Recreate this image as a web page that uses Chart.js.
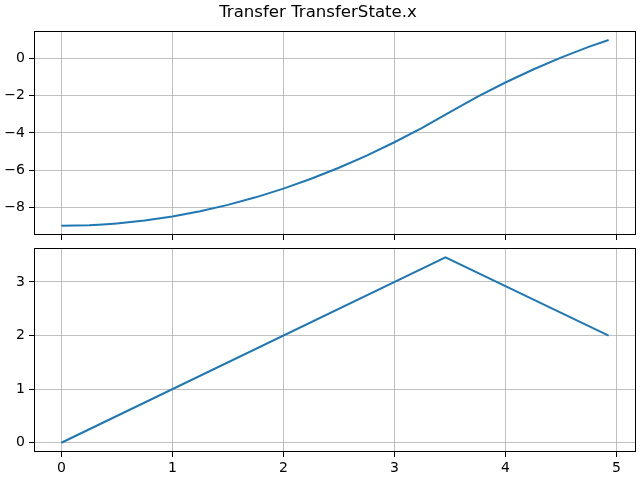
<!DOCTYPE html>
<html>
<head>
<meta charset="utf-8">
<script src="https://cdn.jsdelivr.net/npm/chart.js@4"></script>
<style>
  html, body { margin: 0; padding: 0; background: #fff; }
  #wrap { position: relative; width: 640px; height: 480px; }
  canvas { position: absolute; left: 0; }
  #top { top: 0; }
  #bottom { top: 245px; }
</style>
</head>
<body>
<div id="wrap">
  <canvas id="top" width="640" height="245"></canvas>
  <canvas id="bottom" width="640" height="235"></canvas>
</div>
<script>
const TITLE = 'Transfer TransferState.x';

// position vs time (upper plot)
const posTime = [0, 0.125, 0.25, 0.375, 0.5, 0.625, 0.75, 1.0, 1.25, 1.5, 1.75, 2.0, 2.25, 2.5, 2.75, 3.0, 3.25, 3.46, 3.75, 4.0, 4.25, 4.5, 4.75, 4.93];
const posValues = [-9, -8.992, -8.97, -8.93, -8.875, -8.805, -8.72, -8.5, -8.22, -7.875, -7.47, -7.0, -6.47, -5.875, -5.22, -4.5, -3.72, -3.01, -2.04, -1.28, -0.58, 0.06, 0.64, 1.01];

// velocity vs time (lower plot)
const velTime = [0, 3.46, 4.93];
const velValues = [0, 3.46, 2.0];

const xTicks = [0, 1, 2, 3, 4, 5];
const posTicks = [-8, -6, -4, -2, 0];
const velTicks = [0, 1, 2, 3];

const LINE = '#1f77b4';
const GRID = '#b0b0b0';
const FONT = { family: 'DejaVu Sans', size: 14 };

const fmt = v => (v < 0 ? '\u2212' + Math.abs(v) : String(v));

const boxPlugin = {
  id: 'box',
  afterDraw(chart) {
    const { ctx, chartArea: a } = chart;
    ctx.save();
    ctx.strokeStyle = '#000';
    ctx.lineWidth = 1;
    ctx.strokeRect(Math.round(a.left) + 0.5, Math.round(a.top) + 0.5,
      Math.round(a.right - a.left) - 1, Math.round(a.bottom - a.top) - 1);
    ctx.restore();
  },
};

function noPad(s) {
  s.paddingTop = 0;
  s.paddingBottom = 0;
  s.paddingLeft = 0;
  s.paddingRight = 0;
}

function makeChart(id, xs, ys, yTicks, yMin, yMax, opts) {
  return new Chart(document.getElementById(id).getContext('2d'), {
    type: 'line',
    data: {
      datasets: [{
        data: xs.map((x, i) => ({ x, y: ys[i] })),
        borderColor: LINE,
        borderWidth: 2,
        pointRadius: 0,
        tension: 0,
        fill: false,
      }],
    },
    options: {
      responsive: false,
      animation: false,
      devicePixelRatio: 1,
      layout: { padding: opts.padding },
      plugins: {
        legend: { display: false },
        tooltip: { enabled: false },
        title: opts.title ? {
          display: true,
          text: opts.title,
          color: '#000',
          font: { family: 'DejaVu Sans', size: 16.6, weight: 'normal', lineHeight: 1.2 },
          padding: { top: 3, bottom: 8 },
        } : { display: false },
      },
      scales: {
        x: {
          type: 'linear',
          min: -0.2465,
          max: 5.1765,
          afterBuildTicks: s => { s.ticks = xTicks.map(v => ({ value: v })); },
          afterFit: s => { s.height = opts.xHeight; noPad(s); },
          grid: { color: GRID, lineWidth: 0.8, tickColor: '#000', tickLength: 5, tickWidth: 1 },
          border: { display: false },
          ticks: { display: opts.xLabels, color: '#000', font: FONT, padding: 3, maxRotation: 0, callback: v => fmt(v) },
        },
        y: {
          type: 'linear',
          min: yMin,
          max: yMax,
          afterBuildTicks: s => { s.ticks = yTicks.map(v => ({ value: v })); },
          afterFit: s => { s.width = 34; noPad(s); },
          grid: { color: GRID, lineWidth: 0.8, tickColor: '#000', tickLength: 5, tickWidth: 1 },
          border: { display: false },
          ticks: { color: '#000', font: FONT, padding: 4, callback: v => fmt(v) },
        },
      },
    },
    plugins: [boxPlugin],
  });
}

makeChart('top', posTime, posValues, posTicks, -9.5, 1.5, {
  title: TITLE,
  padding: { left: 0, right: 4, top: 0, bottom: 0 },
  xHeight: 10,
  xLabels: false,
});

makeChart('bottom', velTime, velValues, velTicks, -0.173, 3.633, {
  padding: { left: 0, right: 4, top: 3, bottom: 0 },
  xHeight: 28,
  xLabels: true,
});
</script>
</body>
</html>
